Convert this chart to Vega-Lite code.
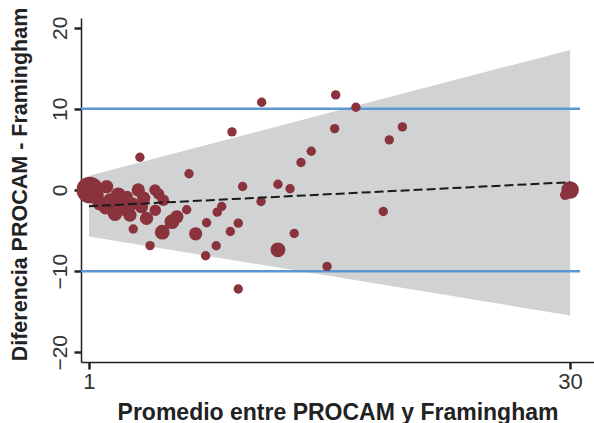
{
  "$schema": "https://vega.github.io/schema/vega-lite/v6.json",
  "width": 513,
  "height": 344,
  "autosize": {"type": "none"},
  "padding": {"left": 81, "top": 18, "right": 0, "bottom": 61},
  "background": "white",
  "config": {
    "view": {"stroke": null},
    "font": "Liberation Sans"
  },
  "datasets": {
    "band": [
      {"x": 1, "lo": -5.73, "hi": 1.75},
      {"x": 30, "lo": -15.46, "hi": 17.27}
    ],
    "limits": [
      {"y": 10, "x0": 0.52, "x1": 30.6},
      {"y": -10, "x0": 0.52, "x1": 30.6}
    ],
    "fit": [
      {"x": 1, "y": -2.0},
      {"x": 30, "y": 0.96}
    ],
    "pts": [
      {"x": 1.05, "y": 0.0, "w": 8},
      {"x": 1.4, "y": -0.6, "w": 3},
      {"x": 1.66, "y": -1.6, "w": 2.5},
      {"x": 2.07, "y": 0.4, "w": 2},
      {"x": 2.0, "y": -2.2, "w": 2},
      {"x": 2.3, "y": -1.3, "w": 2.5},
      {"x": 2.77, "y": -0.6, "w": 2.5},
      {"x": 2.57, "y": -2.9, "w": 2.5},
      {"x": 3.0, "y": -1.8, "w": 2},
      {"x": 3.2, "y": -2.4, "w": 2},
      {"x": 3.47, "y": -3.1, "w": 2},
      {"x": 3.3, "y": -0.8, "w": 1.5},
      {"x": 3.6, "y": -1.7, "w": 2},
      {"x": 3.97, "y": 0.0, "w": 2},
      {"x": 4.17, "y": -2.06, "w": 2},
      {"x": 4.3, "y": -1.0, "w": 2},
      {"x": 4.98, "y": 0.0, "w": 1.5},
      {"x": 4.47, "y": -3.5, "w": 2},
      {"x": 5.48, "y": -1.25, "w": 1.5},
      {"x": 5.2, "y": -0.5, "w": 1.5},
      {"x": 5.0, "y": -2.5, "w": 1.5},
      {"x": 3.67, "y": -4.8, "w": 1},
      {"x": 4.68, "y": -6.85, "w": 1},
      {"x": 4.07, "y": 4.04, "w": 1},
      {"x": 5.42, "y": -5.2, "w": 2.5},
      {"x": 6.0, "y": -3.9, "w": 2.5},
      {"x": 6.3, "y": -3.3, "w": 2},
      {"x": 6.89, "y": -2.44, "w": 1},
      {"x": 7.03, "y": 2.0, "w": 1},
      {"x": 7.43, "y": -5.4, "w": 2},
      {"x": 8.03, "y": -8.1, "w": 1},
      {"x": 8.09, "y": -4.04, "w": 1},
      {"x": 8.67, "y": -6.87, "w": 1},
      {"x": 8.73, "y": -2.73, "w": 1},
      {"x": 9.0, "y": -2.03, "w": 1},
      {"x": 9.52, "y": -5.11, "w": 1},
      {"x": 9.62, "y": 7.17, "w": 1},
      {"x": 10.0, "y": -4.09, "w": 1},
      {"x": 10.0, "y": -12.2, "w": 1},
      {"x": 10.26, "y": 0.43, "w": 1},
      {"x": 11.37, "y": -1.42, "w": 1},
      {"x": 11.41, "y": 10.81, "w": 1},
      {"x": 12.39, "y": 0.71, "w": 1},
      {"x": 12.39, "y": -7.37, "w": 2.5},
      {"x": 13.12, "y": 0.15, "w": 1},
      {"x": 13.37, "y": -5.36, "w": 1},
      {"x": 13.78, "y": 3.39, "w": 1},
      {"x": 14.4, "y": 4.78, "w": 1},
      {"x": 15.35, "y": -9.42, "w": 1},
      {"x": 15.81, "y": 7.57, "w": 1},
      {"x": 15.87, "y": 11.72, "w": 1},
      {"x": 17.09, "y": 10.2, "w": 1},
      {"x": 18.74, "y": -2.65, "w": 1},
      {"x": 19.1, "y": 6.18, "w": 1},
      {"x": 19.89, "y": 7.78, "w": 1},
      {"x": 30.0, "y": 0.0, "w": 3.5},
      {"x": 29.7, "y": -0.6, "w": 1.2}
    ]
  },
  "layer": [
    {
      "data": {"name": "band"},
      "mark": {"type": "area", "color": "#D1D2D4", "opacity": 1},
      "encoding": {
        "x": {
          "field": "x", "type": "quantitative",
          "scale": {"domain": [0.52, 31.44], "nice": false, "zero": false},
          "axis": {
            "values": [1, 30],
            "title": "Promedio entre PROCAM y Framingham",
            "titleFontSize": 23,
            "titleFontWeight": "bold",
            "titleColor": "#222",
            "titlePadding": 9,
            "labelFontSize": 22,
            "labelColor": "#333",
            "labelPadding": 2,
            "domainColor": "#222",
            "domainWidth": 1.5,
            "tickColor": "#222",
            "tickWidth": 2.5,
            "tickSize": 7,
            "grid": false
          }
        },
        "y": {
          "field": "lo", "type": "quantitative",
          "scale": {"domain": [-21.2, 21.2], "nice": false, "zero": false},
          "axis": {
            "values": [-20, -10, 0, 10, 20],
            "title": "Diferencia PROCAM - Framingham",
            "titleFontSize": 21.5,
            "titleFontWeight": "bold",
            "titleColor": "#222",
            "titlePadding": 18,
            "titleY": 166,
            "labelAngle": -90,
            "labelAlign": "center",
            "labelBaseline": "bottom",
            "labelFontSize": 21,
            "labelColor": "#333",
            "labelPadding": 4,
            "domainColor": "#222",
            "domainWidth": 1.5,
            "tickColor": "#222",
            "tickWidth": 2.5,
            "tickSize": 7,
            "grid": false
          }
        },
        "y2": {"field": "hi"}
      }
    },
    {
      "data": {"name": "limits"},
      "mark": {"type": "rule", "color": "#5B97D3", "strokeWidth": 2.5},
      "encoding": {
        "y": {"field": "y", "type": "quantitative"},
        "x": {"field": "x0", "type": "quantitative"},
        "x2": {"field": "x1"}
      }
    },
    {
      "data": {"name": "pts"},
      "mark": {"type": "circle", "color": "#8A333D", "opacity": 1},
      "encoding": {
        "x": {"field": "x", "type": "quantitative"},
        "y": {"field": "y", "type": "quantitative"},
        "size": {
          "field": "w", "type": "quantitative",
          "scale": {"type": "linear", "domain": [0, 10], "range": [0, 880]},
          "legend": null
        }
      }
    },
    {
      "data": {"name": "fit"},
      "mark": {"type": "line", "color": "#1a1a1a", "strokeWidth": 2, "strokeDash": [9, 4]},
      "encoding": {
        "x": {"field": "x", "type": "quantitative"},
        "y": {"field": "y", "type": "quantitative"}
      }
    }
  ]
}
